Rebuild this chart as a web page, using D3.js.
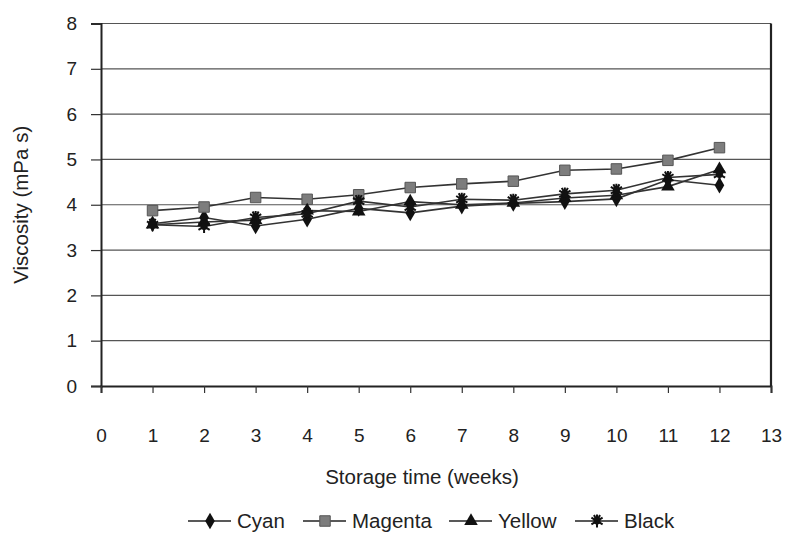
<!DOCTYPE html>
<html>
<head>
<meta charset="utf-8">
<style>
  body { margin: 0; background: #fff; }
  text { font-family: "Liberation Sans", Arial, sans-serif; fill: #222; }
</style>
</head>
<body>
<svg id="chart" width="792" height="533"></svg>
<script src="https://cdn.jsdelivr.net/npm/d3@7/dist/d3.min.js"></script>
<script>

var weeks = [1, 2, 3, 4, 5, 6, 7, 8, 9, 10, 11, 12]
var cyan    = [3.58, 3.72, 3.53, 3.68, 3.92, 3.82, 3.97, 4.03, 4.07, 4.13, 4.55, 4.43]
var magenta = [3.87, 3.95, 4.16, 4.12, 4.22, 4.38, 4.46, 4.52, 4.76, 4.79, 4.98, 5.26]
var yellow  = [3.56, 3.62, 3.66, 3.87, 3.85, 4.07, 4.00, 4.04, 4.15, 4.21, 4.40, 4.78]
var black   = [3.56, 3.52, 3.72, 3.80, 4.08, 3.95, 4.12, 4.10, 4.24, 4.32, 4.60, 4.67]

var seriesNames = ["Cyan", "Magenta", "Yellow", "Black"]
var xTicks = d3.range(0, 14)
var yTicks = d3.range(0, 9)

var svg = d3.select("#chart")

var x = d3.scaleLinear().domain([0, 13]).range([101, 771])
var y = d3.scaleLinear().domain([0, 8]).range([386, 23.5])

// horizontal gridlines
svg.append("g")
  .selectAll("line")
  .data(yTicks.slice(1))
  .enter().append("line")
  .attr("x1", x(0)).attr("x2", x(13))
  .attr("y1", d => y(d)).attr("y2", d => y(d))
  .attr("stroke", "#555")
  .attr("stroke-width", 1.2)

// y axis
var yAxis = svg.append("g")
  .attr("transform", "translate(" + x(0) + ",0)")
  .call(d3.axisLeft(y).tickValues(yTicks).tickSize(10).tickPadding(14).tickFormat(d3.format("d")))
yAxis.select(".domain").attr("stroke", "#222").attr("stroke-width", 2)
yAxis.selectAll(".tick line").attr("stroke", "#333").attr("stroke-width", 1.2)
yAxis.selectAll("text").style("font-size", "19px").attr("fill", "#222")

// x axis
var xAxis = svg.append("g")
  .attr("transform", "translate(0," + y(0) + ")")
  .call(d3.axisBottom(x).tickValues(xTicks).tickSize(7).tickPadding(36).tickFormat(d3.format("d")))
xAxis.select(".domain").attr("stroke", "#222").attr("stroke-width", 2)
xAxis.selectAll(".tick line").attr("stroke", "#333").attr("stroke-width", 1.2)
xAxis.selectAll("text").style("font-size", "19px").attr("fill", "#222")

// right border
svg.append("line")
  .attr("x1", x(13)).attr("x2", x(13))
  .attr("y1", y(8)).attr("y2", y(0))
  .attr("stroke", "#222").attr("stroke-width", 2.2)

// axis titles
svg.append("text")
  .attr("transform", "translate(28," + y(4) + ") rotate(-90)")
  .attr("text-anchor", "middle")
  .style("font-size", "20.5px")
  .text("Viscosity (mPa s)")

svg.append("text")
  .attr("x", 422).attr("y", 484)
  .attr("text-anchor", "middle")
  .style("font-size", "20.5px")
  .text("Storage time (weeks)")

// marker drawing
var starPath = "M0,-6.5L0,6.5M-5.6,-3.3L5.6,3.3M-5.6,3.3L5.6,-3.3M-3,-6L0,0M3,-6L0,0"
function drawMarker(sel, name) {
  if (name === "Cyan") {
    sel.append("path").attr("d", d3.symbol(d3.symbolDiamond, 80)()).attr("fill", "#111")
  } else if (name === "Magenta") {
    sel.append("path").attr("d", d3.symbol(d3.symbolSquare, 110)())
      .attr("fill", "#7d7d7d").attr("stroke", "#555").attr("stroke-width", 1)
  } else if (name === "Yellow") {
    sel.append("path").attr("d", d3.symbol(d3.symbolTriangle, 80)()).attr("fill", "#111")
  } else {
    sel.append("path").attr("d", starPath).attr("stroke", "#111").attr("stroke-width", 2).attr("fill", "none")
    sel.append("circle").attr("r", 3.5).attr("fill", "#111")
  }
}

var series = [
  {name: "Cyan", values: cyan},
  {name: "Magenta", values: magenta},
  {name: "Yellow", values: yellow},
  {name: "Black", values: black}
]

var line = d3.line()
  .x((d, i) => x(weeks[i]))
  .y(d => y(d))

var lines = svg.append("g")
series.forEach(function(s) {
  lines.append("path")
    .datum(s.values)
    .attr("fill", "none")
    .attr("stroke", "#333")
    .attr("stroke-width", 1.6)
    .attr("d", line)
})

series.forEach(function(s) {
  svg.append("g").selectAll("g")
    .data(s.values)
    .enter().append("g")
    .attr("transform", (d, i) => "translate(" + x(weeks[i]) + "," + y(d) + ")")
    .each(function() { drawMarker(d3.select(this), s.name) })
})

// legend
var legendX = [210, 325, 471, 597]
var legend = svg.append("g").attr("transform", "translate(0,521)")
seriesNames.forEach(function(name, i) {
  var g = legend.append("g").attr("transform", "translate(" + legendX[i] + ",0)")
  g.append("line").attr("x1", -22).attr("x2", 21).attr("stroke", "#222").attr("stroke-width", 1.6)
  drawMarker(g, name)
  g.append("text").attr("x", 27).attr("y", 7).style("font-size", "20.5px").text(name)
})

</script>
</body>
</html>
